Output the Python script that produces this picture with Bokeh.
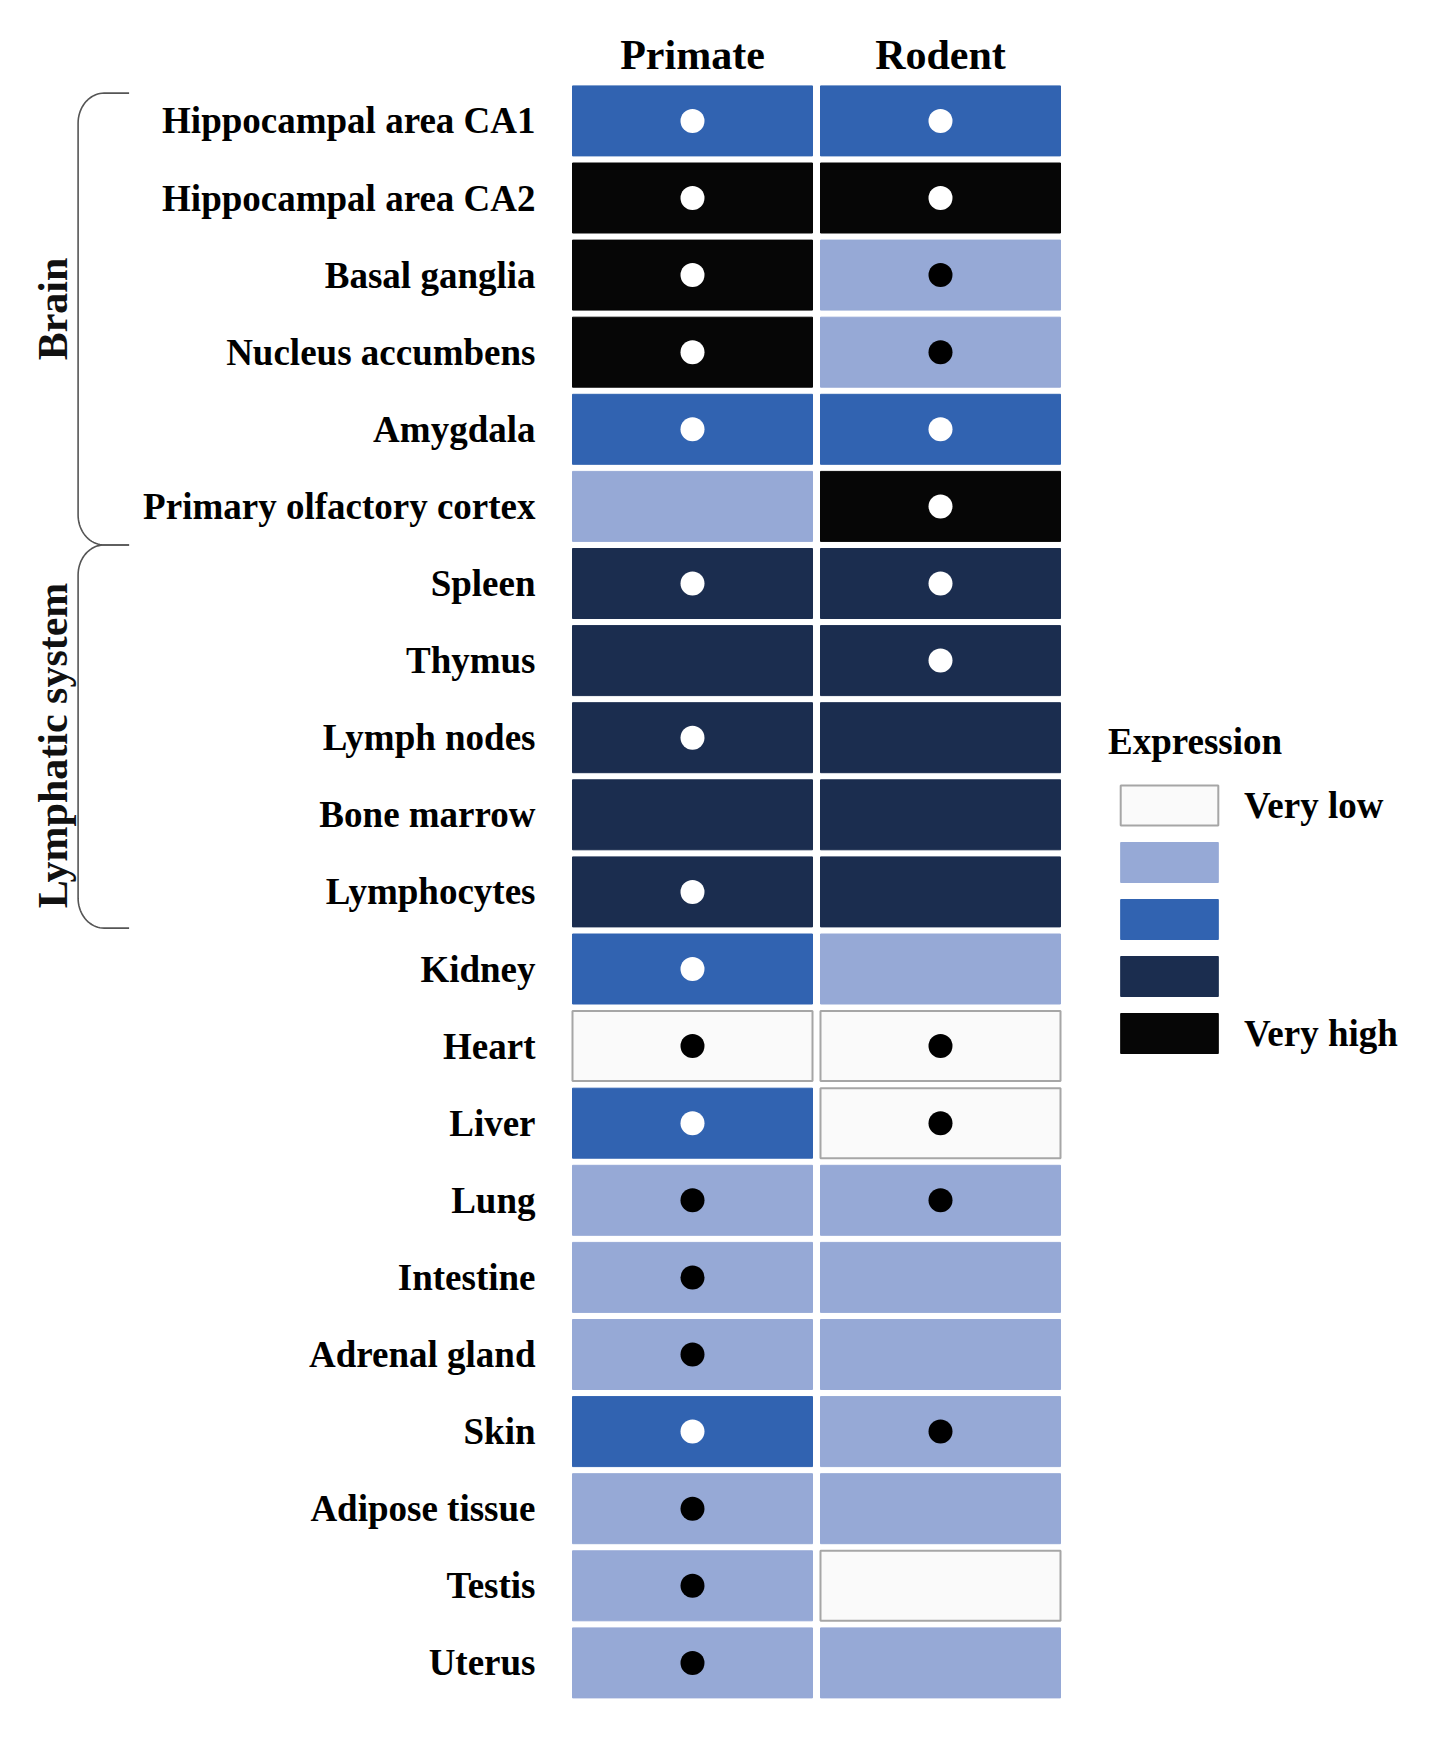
import numpy as np
from bokeh.plotting import figure
from bokeh.models import Range1d, Legend, LegendItem
from bokeh.core.properties import value
from bokeh.embed import file_html
from bokeh.resources import INLINE

# ---------------- data ----------------
tissues = [
    "Hippocampal area CA1", "Hippocampal area CA2", "Basal ganglia",
    "Nucleus accumbens", "Amygdala", "Primary olfactory cortex",
    "Spleen", "Thymus", "Lymph nodes", "Bone marrow", "Lymphocytes",
    "Kidney", "Heart", "Liver", "Lung", "Intestine", "Adrenal gland",
    "Skin", "Adipose tissue", "Testis", "Uterus",
]
species = ["Primate", "Rodent"]
# expression level: 0 very low .. 4 very high
level_primate = [2, 4, 4, 4, 2, 1, 3, 3, 3, 3, 3, 2, 0, 2, 1, 1, 1, 2, 1, 1, 1]
level_rodent = [2, 4, 1, 1, 2, 4, 3, 3, 3, 3, 3, 1, 0, 0, 1, 1, 1, 1, 1, 0, 1]
# marker present (1) or absent (0)
dot_primate = [1, 1, 1, 1, 1, 0, 1, 0, 1, 0, 1, 1, 1, 1, 1, 1, 1, 1, 1, 1, 1]
dot_rodent = [1, 1, 1, 1, 1, 1, 1, 1, 0, 0, 0, 0, 1, 1, 1, 0, 0, 1, 0, 0, 0]
level_names = ["Very low", "", "", "", "Very high"]
level_colors = ["#FAFAFA", "#96A9D6", "#3163B1", "#1B2D4F", "#060606"]
groups = ["Brain", "Lymphatic system"]
group_start = [0, 6]
group_end = [5, 10]

# ---------------- layout constants ----------------
W, H = 1420, 1723
X0, XP = 692.0, 248.0      # pixel of column 0 centre, pixels per column
Y0, YP = 120.4, 77.1       # pixel of row 0 centre, pixels per row
GROUP_LABEL_SHIFT = [-0.06, 0.1]
FONT_NAME = "Liberation Serif"
FONT = value(FONT_NAME)

p = figure(width=W, height=H, output_backend="svg", toolbar_location=None,
           x_range=Range1d(-X0 / XP, (W - X0) / XP),
           y_range=Range1d((H - Y0) / YP, -Y0 / YP),
           x_axis_type=None, y_axis_type=None, min_border=0)
p.grid.visible = False
p.outline_line_color = None
p.background_fill_color = "white"

levels = [level_primate, level_rodent]
dots = [dot_primate, dot_rodent]

# cells, one renderer per level (for legend)
renderers = []
for lv in range(5):
    xs, ys = [], []
    for c in range(2):
        for r in range(len(tissues)):
            if levels[c][r] == lv:
                xs.append(c)
                ys.append(r)
    if lv == 0:
        lc, lw = "#A6A6A6", 2
    else:
        lc, lw = level_colors[lv], 1
    rr = p.rect(x=xs, y=ys, width=240 / XP, height=70 / YP,
                fill_color=level_colors[lv], line_color=lc, line_width=lw)
    renderers.append(rr)

# dots
dx, dy, dc = [], [], []
for c in range(2):
    for r in range(len(tissues)):
        if dots[c][r]:
            dx.append(c)
            dy.append(r)
            dc.append("#FFFFFF" if levels[c][r] >= 2 else "#000000")
p.scatter(x=dx, y=dy, size=24, fill_color=dc, line_color=None, marker="circle")

# row labels
p.text(x=[-0.633] * len(tissues), y=list(range(len(tissues))), text=tissues,
       text_align="right", text_baseline="middle", text_font=FONT,
       text_font_style="bold", text_font_size="37px", text_color="black")

# column headers
p.text(x=list(range(len(species))), y=[-0.86] * len(species), text=species,
       text_align="center", text_baseline="alphabetic", text_font=FONT,
       text_font_style="bold", text_font_size="42px", text_color="black")

# brackets
x_v = (77.6 - X0) / XP
x_e = (128.6 - X0) / XP
rx = 26 / XP
ry = 30 / YP
t = np.linspace(0, np.pi / 2, 20)
for i, (s, e) in enumerate(zip(group_start, group_end)):
    top = s - (0.36 if i == 0 else 0.5)
    bot = e + (0.5 if i < len(groups) - 1 else 0.47)
    tx = x_v + rx - rx * np.sin(t)
    ty = top + ry - ry * np.cos(t)
    bx = x_v + rx - rx * np.cos(t)
    by = bot - ry + ry * np.sin(t)
    xs = np.concatenate([[x_e], tx, bx, [x_e]])
    ys = np.concatenate([[top], ty, by, [bot]])
    p.line(x=xs, y=ys, line_color="#555555", line_width=1.6)
    p.text(x=[(52 - X0) / XP], y=[(s + e) / 2 + GROUP_LABEL_SHIFT[i]],
           text=[groups[i]], angle=np.pi / 2,
           text_align="center", text_baseline="middle", text_font=FONT,
           text_font_style="bold", text_font_size="42px", text_color="#111111")

# legend
items = [LegendItem(label=(level_names[lv] or " "), renderers=[renderers[lv]])
         for lv in range(5)]
legend = Legend(items=items, location=(1108, 665), orientation="vertical",
                glyph_width=122, glyph_height=50, label_standoff=14, spacing=7,
                padding=0, margin=0, border_line_color=None,
                background_fill_alpha=0,
                label_text_font=FONT_NAME, label_text_font_size="37px",
                label_text_font_style="bold", label_text_color="black",
                title="Expression", title_text_font=FONT_NAME,
                title_text_font_size="37px", title_text_font_style="bold",
                title_text_color="black", title_standoff=17)
p.add_layout(legend)

open("out.html", "w").write(file_html(p, INLINE))
